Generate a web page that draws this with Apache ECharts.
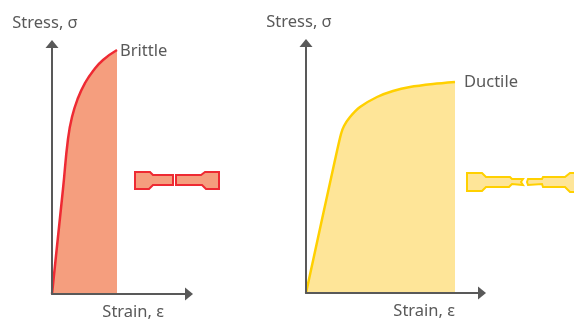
<!DOCTYPE html>
<html>
<head>
<meta charset="utf-8">
<style>html,body{margin:0;padding:0;background:#fff}#chart{width:574px;height:321px}</style>
<script src="https://cdn.jsdelivr.net/npm/echarts@6/dist/echarts.min.js"></script>
</head>
<body>
<div id="chart"></div>
<script>
// curves: [strain, stress] in arbitrary units
var brittle_curve = [[0,0],[11,105],[16,155],[20,177],[26,196],[33,211],[41,223],[51,234],[65,244]];
var ductile_curve = [[0,0],[29,133],[35,159],[38,167],[44,176],[54,186],[71,196],[87,202],[104,206],[127,209],[149,211]];

// test pieces after failure, same units as the axes they sit on
var brittle_piece_a = [[83,122],[98,122],[101,119],[121,119],[121,109],[101,109],[97,105],[83,105]];
var brittle_piece_b = [[124,119],[149,119],[153,122],[167,122],[167,105],[154,105],[150,109],[124,109]];
var ductile_piece_a = [[161,120],[176,120],[180,116],[204,116],[206,114],[217,114],[215,111],[217,108],[206,109],[203,106],[180,106],[176,102],[161,102]];
var ductile_piece_b = [[221,111],[222,114],[236,114],[237,116],[259,116],[264,120],[274,120],[274,101],[264,101],[259,106],[237,106],[236,109],[222,108]];

var x_label = 'Strain, ε';
var y_label = 'Stress, σ';
var text_color = '#595959';
var font = 'Noto Sans';
var font_size = 16.5;

function make_axis(type, name, max, idx, gap) {
    var axis = {
        type: 'value', gridIndex: idx, min: 0, max: max, z: 5, name: name,
        axisLine: {
            show: true, onZero: false,
            symbol: ['none', 'triangle'], symbolSize: [13, 8],
            lineStyle: {color: text_color, width: 2}
        },
        axisTick: {show: false},
        axisLabel: {show: false},
        splitLine: {show: false}
    };
    axis.nameLocation = 'end';
    axis.nameGap = gap;
    if (type === 'x') {
        axis.nameTextStyle = {color: text_color, fontFamily: font, fontSize: font_size, align: 'right', verticalAlign: 'top', padding: [10, 0, 0, 0]};
    } else {
        axis.nameTextStyle = {color: text_color, fontFamily: font, fontSize: font_size, align: 'center', padding: [0, 14, 0, 0]};
    }
    return axis;
}

function curve_series(name, data, idx, line_color, fill_color, gap, drop, smooth) {
    return {
        name: name, type: 'line', data: data, xAxisIndex: idx, yAxisIndex: idx,
        smooth: smooth, symbol: 'none', silent: true,
        lineStyle: {color: line_color, width: 2.5},
        areaStyle: {color: fill_color, opacity: 1},
        endLabel: {show: true, formatter: name, distance: gap, offset: [0, drop], color: text_color, fontFamily: font, fontSize: font_size}
    };
}

function piece_series(pieces, idx, line_color, fill_color) {
    return {
        type: 'custom', xAxisIndex: idx, yAxisIndex: idx, silent: true, clip: false,
        data: pieces.map(function (p, i) { return [i]; }),
        renderItem: function (params, api) {
            var pts = pieces[api.value(0)].map(function (p) { return api.coord(p); });
            return {
                type: 'polygon',
                shape: {points: pts},
                style: {fill: fill_color, stroke: line_color, lineWidth: 2}
            };
        }
    };
}

var chart = echarts.init(document.getElementById('chart'), null, {renderer: 'canvas'});
chart.setOption({
    animation: false,
    grid: [
        {left: 52, top: 44, width: 137, height: 250},
        {left: 306, top: 43, width: 176, height: 250}
    ],
    xAxis: [make_axis('x', x_label, 137, 0, -25), make_axis('x', x_label, 176, 1, -27)],
    yAxis: [make_axis('y', y_label, 250, 0, 12), make_axis('y', y_label, 250, 1, 12)],
    series: [
        curve_series('Brittle', brittle_curve, 0, '#EE2A33', '#F59E7E', 3, 1, 0.5),
        curve_series('Ductile', ductile_curve, 1, '#FFD000', '#FEE598', 9, 0, 0.3),
        piece_series([brittle_piece_a, brittle_piece_b], 0, '#EE2A33', '#F59E7E'),
        piece_series([ductile_piece_a, ductile_piece_b], 1, '#FFD000', '#FEE598')
    ]
});
</script>
</body>
</html>
